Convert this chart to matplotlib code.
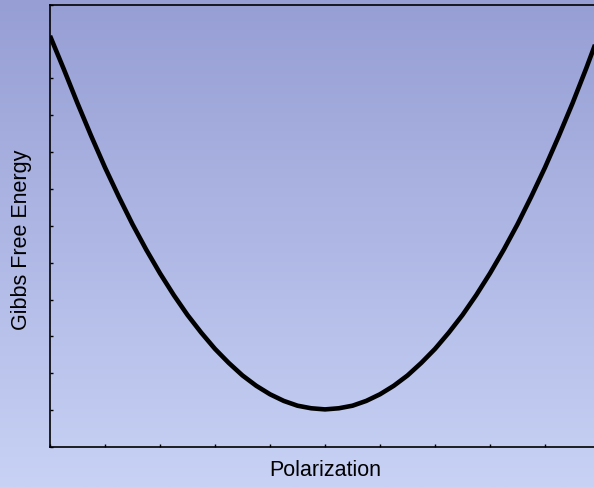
import numpy as np
import matplotlib
matplotlib.use("Agg")
import matplotlib.pyplot as plt
from matplotlib.colors import LinearSegmentedColormap

plt.rcParams['font.family'] = ['Liberation Sans', 'DejaVu Sans']

# Polarization (arbitrary units) and Gibbs free energy
polarization = np.arange(0, 10.01, 0.25)
gibbs_energy = np.array([
    11.15, 10.25, 9.32, 8.43, 7.58, 6.79, 6.04, 5.35, 4.71, 4.12,
    3.58, 3.10, 2.66, 2.28, 1.94, 1.66, 1.43, 1.25, 1.12, 1.05,
    1.02,
    1.05, 1.12, 1.25, 1.43, 1.66, 1.94, 2.28, 2.66, 3.10, 3.58,
    4.12, 4.71, 5.35, 6.04, 6.79, 7.58, 8.43, 9.32, 10.27, 11.27
])

fig = plt.figure(figsize=(5.94, 4.87), dpi=100)

# vertical background gradient over the whole figure
bg = fig.add_axes([0, 0, 1, 1], zorder=0)
grad = LinearSegmentedColormap.from_list('bg', ['#969ED4', '#C8D2F5'])
bg.imshow(np.linspace(0, 1, 256).reshape(-1, 1), aspect='auto', cmap=grad,
          extent=[0, 1, 0, 1])
bg.axis('off')

ax = fig.add_axes([50 / 594, 40 / 487, 550 / 594, 442.5 / 487], zorder=1)
ax.patch.set_alpha(0)

ax.plot(polarization, gibbs_energy, color='black', linewidth=3.3,
        solid_capstyle='butt')

ax.set_xlim(0, 10)
ax.set_ylim(0, 12)
ax.set_xticks(np.arange(0, 11, 1))
ax.set_yticks(np.arange(0, 13, 1))
ax.tick_params(direction='in', length=2.5, width=1, labelbottom=False,
               labelleft=False, colors='black')
for s in ax.spines.values():
    s.set_linewidth(1.2)
    s.set_color('black')

ax.set_xlabel('Polarization', fontsize=15.5)
ax.set_ylabel('Gibbs Free Energy', fontsize=15.5)
ax.xaxis.set_label_coords(0.5, -13 / 442.5)
ax.yaxis.set_label_coords(-18 / 550, (447 - 240) / 442.5)

fig.savefig('out.png', dpi=100)
